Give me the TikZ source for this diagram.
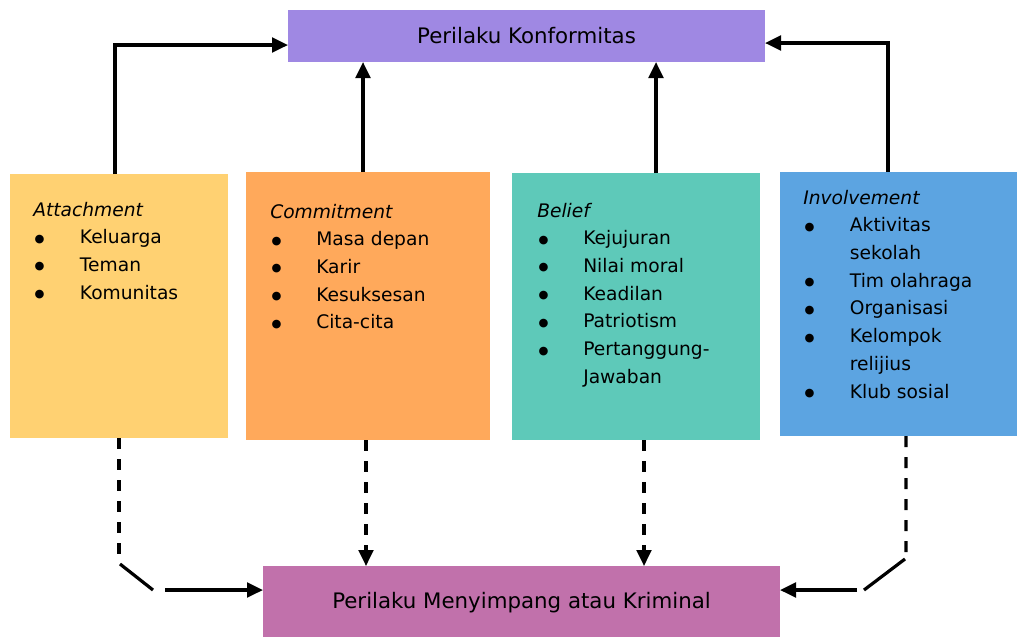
\documentclass[tikz,border=0pt]{standalone}
\usepackage{fontspec}
\setmainfont{DejaVu Sans}
\usetikzlibrary{arrows.meta}
\usetikzlibrary{fit}

\definecolor{ungukonf}{HTML}{9F88E3}
\definecolor{ungukrim}{HTML}{C171AB}
\definecolor{kuning}{HTML}{FFD172}
\definecolor{oranye}{HTML}{FFA95B}
\definecolor{hijau}{HTML}{5EC9B9}
\definecolor{biru}{HTML}{5CA4E1}

\newcommand{\butir}{\hspace{1pt}\raisebox{1.2pt}{\fontsize{8.5}{10}\selectfont ●}}

\begin{document}
\begin{tikzpicture}[x=0.75pt,y=-0.75pt,
  blok/.style={inner sep=0pt, outer sep=0pt, draw=none},
  judul/.style={inner sep=0pt, font=\fontsize{16}{18}\selectfont},
  isi/.style={anchor=base west, inner sep=0pt, font=\fontsize{14}{20.8}\selectfont},
  garis/.style={line width=2.4pt},
  panah/.style={garis, -{Triangle[length=12pt,width=11pt]}},
  putus/.style={garis, dash pattern=on 8.25pt off 7.5pt},
]
\useasboundingbox (0,0) rectangle (1017,637);

% kotak atas dan bawah
\node[blok, fill=ungukonf, fit={(288,10) (765,62)},
  label={[judul]center:Perilaku Konformitas}] (konf) {};
\node[blok, fill=ungukrim, fit={(263,566) (780,637)},
  label={[judul, yshift=-1pt]center:Perilaku Menyimpang atau Kriminal}] (krim) {};

% empat kotak
\node[blok, fill=kuning, fit={(10,174) (228,438)}] (att) {};
\node[blok, fill=oranye, fit={(246,172) (490,440)}] (com) {};
\node[blok, fill=hijau, fit={(512,173) (760,440)}] (bel) {};
\node[blok, fill=biru, fit={(780,172) (1017,436)}] (inv) {};

% isi kotak
\node[isi] (att-isi) at (33,216) {\begin{tabular}[t]{@{}p{35pt}@{}l@{}}
  \multicolumn{2}{@{}l@{}}{\textit{Attachment}}\\
  \butir & Keluarga\\
  \butir & Teman\\
  \butir & Komunitas
\end{tabular}};
\node[isi] (com-isi) at (270,218) {\begin{tabular}[t]{@{}p{34.5pt}@{}l@{}}
  \multicolumn{2}{@{}l@{}}{\textit{Commitment}}\\
  \butir & Masa depan\\
  \butir & Karir\\
  \butir & Kesuksesan\\
  \butir & Cita-cita
\end{tabular}};
\node[isi] (bel-isi) at (537,217) {\begin{tabular}[t]{@{}p{34.5pt}@{}l@{}}
  \multicolumn{2}{@{}l@{}}{\textit{Belief}}\\
  \butir & Kejujuran\\
  \butir & Nilai moral\\
  \butir & Keadilan\\
  \butir & Patriotism\\
  \butir & Pertanggung-\\
         & Jawaban
\end{tabular}};
\node[isi] (inv-isi) at (803,204) {\begin{tabular}[t]{@{}p{35pt}@{}l@{}}
  \multicolumn{2}{@{}l@{}}{\textit{Involvement}}\\
  \butir & Aktivitas\\
         & sekolah\\
  \butir & Tim olahraga\\
  \butir & Organisasi\\
  \butir & Kelompok\\
         & relijius\\
  \butir & Klub sosial
\end{tabular}};

% panah ke atas
\draw[panah] ([xshift=-3pt]att.north) |- ([yshift=-6.75pt]konf.west);
\draw[panah] ([xshift=-3.75pt]com.north) -- ([xshift=-3.75pt]com.north |- konf.south);
\draw[panah] ([xshift=15pt]bel.north) -- ([xshift=15pt]bel.north |- konf.south);
\draw[panah] ([xshift=-7.9pt]inv.north) |- ([yshift=-5.25pt]konf.east);

% garis putus ke bawah
\coordinate (att-a) at (119,557);
\coordinate (att-b) at (120,564);
\coordinate (att-c) at (153,590);
\coordinate (att-d) at (165,590);
\draw[putus] (att.south) -- (att-a);
\draw[garis] (att-b) -- (att-c);
\draw[panah] (att-d) -- (att-d -| krim.west);

\draw[putus, -{Triangle[length=12pt,width=11pt]}] ([xshift=-1.5pt]com.south) -- ([xshift=-1.5pt]com.south |- krim.north);
\draw[putus, -{Triangle[length=12pt,width=11pt]}] ([xshift=6pt]bel.south) -- ([xshift=6pt]bel.south |- krim.north);

\coordinate (inv-a) at (906,557);
\coordinate (inv-b) at (905,559);
\coordinate (inv-c) at (864,590);
\coordinate (inv-d) at (857,590);
\draw[putus] ([xshift=5.6pt]inv.south) -- (inv-a);
\draw[garis] (inv-b) -- (inv-c);
\draw[panah] (inv-d) -- (inv-d -| krim.east);

\end{tikzpicture}
\end{document}
